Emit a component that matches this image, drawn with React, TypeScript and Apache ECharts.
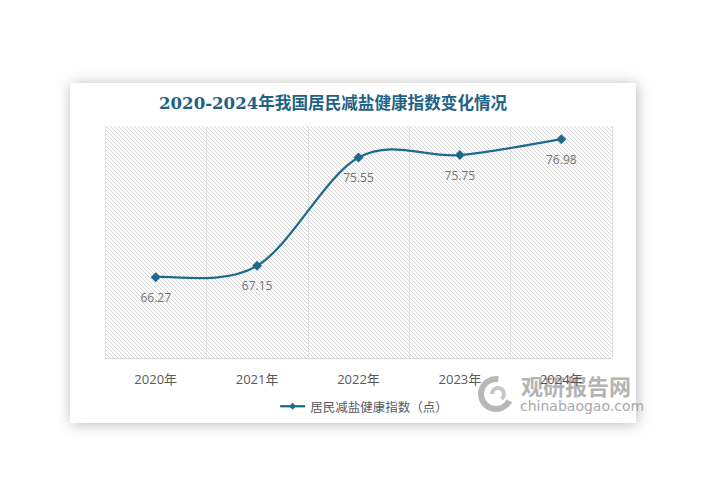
import React, { useEffect, useRef } from "react";
import * as echarts from "echarts";

const categories = ["2020年", "2021年", "2022年", "2023年", "2024年"];
const values = [66.27, 67.15, 75.55, 75.75, 76.98];
const seriesName = "居民减盐健康指数（点）";
const titleText = "2020-2024年我国居民减盐健康指数变化情况";
const lineColor = "#1d6a8e";

function makeHatch(): HTMLCanvasElement {
  const c = document.createElement("canvas");
  c.width = 4;
  c.height = 4;
  const ctx = c.getContext("2d")!;
  ctx.fillStyle = "#ffffff";
  ctx.fillRect(0, 0, 4, 4);
  ctx.fillStyle = "#d6d6d6";
  for (let i = 0; i < 4; i++) ctx.fillRect(i, i, 1, 1);
  return c;
}

function smoothPath(pts: number[][]): string {
  const n = pts.length;
  let d = `M${pts[0][0]},${pts[0][1]}`;
  for (let i = 0; i < n - 1; i++) {
    const p0 = pts[Math.max(0, i - 1)];
    const p1 = pts[i];
    const p2 = pts[i + 1];
    const p3 = pts[Math.min(n - 1, i + 2)];
    const c1x = p1[0] + (p2[0] - p0[0]) / 6;
    const c1y = p1[1] + (p2[1] - p0[1]) / 6;
    const c2x = p2[0] - (p3[0] - p1[0]) / 6;
    const c2y = p2[1] - (p3[1] - p1[1]) / 6;
    d += ` C${c1x},${c1y} ${c2x},${c2y} ${p2[0]},${p2[1]}`;
  }
  return d;
}

export default function App() {
  const ref = useRef<HTMLDivElement>(null);
  useEffect(() => {
    if (!ref.current) return;
    const chart = echarts.init(ref.current, null, { renderer: "svg" });
    const hatch = makeHatch();
    chart.setOption({
      animation: false,
      backgroundColor: "#ffffff",
      title: {
        text: titleText,
        left: 154,
        top: 90,
        textStyle: {
          fontFamily: "DejaVu Serif, Noto Sans CJK SC, serif",
          fontSize: 16.6,
          fontWeight: "bold",
          color: "#1e6286",
        },
      },
      graphic: [
        {
          type: "rect",
          z: -10,
          shape: { x: 70, y: 83, width: 566, height: 340 },
          style: {
            fill: "#ffffff",
            shadowBlur: 14,
            shadowColor: "rgba(0,0,0,0.28)",
            shadowOffsetX: 1,
            shadowOffsetY: 1,
          },
          silent: true,
        },
        {
          type: "group",
          z: 100,
          children: [
            {
              type: "arc",
              shape: { cx: 496, cy: 394, r: 15, startAngle: Math.PI * 0.15, endAngle: Math.PI * 1.55 },
              style: { stroke: "#b8b8b8", lineWidth: 6, fill: "none" },
            },
            {
              type: "arc",
              shape: { cx: 498, cy: 394, r: 6, startAngle: Math.PI * 1.0, endAngle: Math.PI * 2.3 },
              style: { stroke: "#c8c8c8", lineWidth: 4, fill: "none" },
            },
            {
              type: "text",
              x: 521,
              y: 385,
              style: {
                text: "观研报告网",
                font: "bold 22px 'Noto Sans CJK SC'",
                fill: "#b4b4b4",
                textVerticalAlign: "middle",
              },
            },
            {
              type: "text",
              x: 520,
              y: 406,
              style: {
                text: "chinabaogao.com",
                font: "14px 'DejaVu Sans'",
                fill: "#a8a8a8",
                textVerticalAlign: "middle",
              },
            },
          ],
        },
      ],
      legend: {
        left: 274,
        top: 395,
        itemWidth: 25,
        itemHeight: 9,
        itemGap: 4,
        textStyle: {
          fontFamily: "Noto Sans CJK SC",
          fontSize: 12.5,
          color: "#595959",
        },
        data: [
          {
            name: seriesName,
            lineStyle: { color: lineColor, width: 2.25, opacity: 1 },
            itemStyle: { color: lineColor },
          },
        ],
      },
      grid: {
        left: 105,
        right: 97,
        top: 126,
        bottom: 135,
        show: true,
        borderWidth: 0,
        backgroundColor: { image: hatch, repeat: "repeat" },
      },
      xAxis: {
        type: "category",
        data: categories,
        boundaryGap: true,
        axisLine: { show: true, lineStyle: { color: "#d9d9d9", width: 1 } },
        axisTick: { show: false },
        splitLine: { show: true, lineStyle: { color: "#e0e0e0", width: 1 } },
        axisLabel: {
          margin: 14,
          fontFamily: "Open Sans, Noto Sans CJK SC",
          fontSize: 13,
          color: "#595959",
        },
      },
      yAxis: {
        type: "value",
        min: 60,
        max: 78,
        show: false,
        splitLine: { show: false },
      },
      series: [
        {
          type: "custom",
          name: "curve",
          silent: true,
          z: 2,
          data: [[0, values[0]]],
          renderItem: (params: any, api: any) => {
            const pts = values.map((v, i) => api.coord([i, v]));
            return {
              type: "path",
              shape: { pathData: smoothPath(pts) },
              style: { stroke: lineColor, lineWidth: 2.25, fill: "none" },
            };
          },
        },
        {
          name: seriesName,
          type: "line",
          z: 3,
          data: values,
          symbol: "diamond",
          symbolSize: 10,
          itemStyle: { color: lineColor },
          lineStyle: { color: lineColor, width: 2.25, opacity: 0 },
          label: {
            show: true,
            position: "bottom",
            distance: 9,
            fontFamily: "Open Sans, Noto Sans",
            fontSize: 12,
            color: "#737373",
          },
        },
      ],
    });
    return () => chart.dispose();
  }, []);
  return (
    <div
      ref={ref}
      style={{ position: "fixed", left: 0, top: 0, width: 709, height: 493 }}
    />
  );
}
